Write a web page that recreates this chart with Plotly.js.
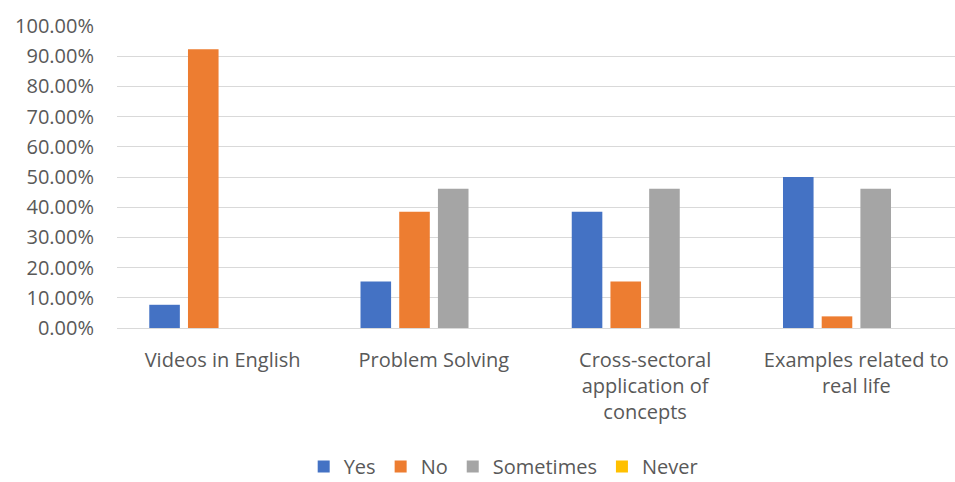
<!DOCTYPE html>
<html>
<head>
<meta charset="utf-8">
<script src="https://cdn.plot.ly/plotly-3.0.1.min.js"></script>
<style>
  html, body { margin: 0; padding: 0; background: #ffffff; }
  #chart { width: 955px; height: 482px; }
</style>
</head>
<body>
<div id="chart"></div>
<script>
// Survey categories (x axis) and share of answers per option
const categories = [
  "Videos in English",
  "Problem Solving",
  "Cross-sectoral<br>application of<br>concepts",
  "Examples related to<br>real life"
];
const yesValues       = [0.0769, 0.1538, 0.3846, 0.5000];
const noValues        = [0.9231, 0.3846, 0.1538, 0.0385];
const sometimesValues = [0.0000, 0.4615, 0.4615, 0.4615];
const neverValues     = [0.0000, 0.0000, 0.0000, 0.0000];

const seriesNames  = ["Yes", "No", "Sometimes", "Never"];
const seriesColors = ["#4472C4", "#ED7D31", "#A5A5A5", "#FFC000"];
const seriesValues = [yesValues, noValues, sometimesValues, neverValues];

const fontFamily = "Open Sans, Noto Sans, sans-serif";
const textColor = "#595959";
const fontSize = 20;

const traces = seriesNames.map((name, i) => ({
  type: "bar",
  name: name,
  x: categories,
  y: seriesValues[i],
  marker: { color: seriesColors[i] },
  hoverinfo: "x+y+name"
}));

const layout = {
  width: 955,
  height: 482,
  margin: { l: 117, r: 0, t: 26, b: 154, autoexpand: false },
  paper_bgcolor: "#ffffff",
  plot_bgcolor: "#ffffff",
  barmode: "group",
  bargap: 0.267,
  bargroupgap: 0.21,
  font: { family: fontFamily, size: fontSize, color: textColor },
  xaxis: {
    // the plot area runs slightly past the right edge of the page
    range: [-0.5, 3.467],
    showgrid: false,
    zeroline: false,
    showline: false,
    ticks: "",
    automargin: false,
    ticklabelstandoff: 18,
    tickfont: { family: fontFamily, size: fontSize, color: textColor },
    fixedrange: true
  },
  yaxis: {
    range: [0, 1],
    dtick: 0.1,
    tickformat: ".2%",
    showgrid: true,
    gridcolor: "#D9D9D9",
    gridwidth: 1,
    zeroline: true,
    zerolinecolor: "#D9D9D9",
    zerolinewidth: 1,
    showline: false,
    ticks: "",
    automargin: false,
    ticklabelstandoff: 22,
    tickfont: { family: fontFamily, size: fontSize, color: textColor },
    fixedrange: true
  },
  showlegend: true,
  legend: {
    orientation: "h",
    xref: "container",
    x: 0.318,
    xanchor: "left",
    y: -0.523,
    yanchor: "bottom",
    font: { family: fontFamily, size: fontSize, color: textColor },
    itemwidth: 30,
    traceorder: "normal"
  }
};

Plotly.newPlot("chart", traces, layout, { displayModeBar: false, staticPlot: true });
</script>
</body>
</html>
